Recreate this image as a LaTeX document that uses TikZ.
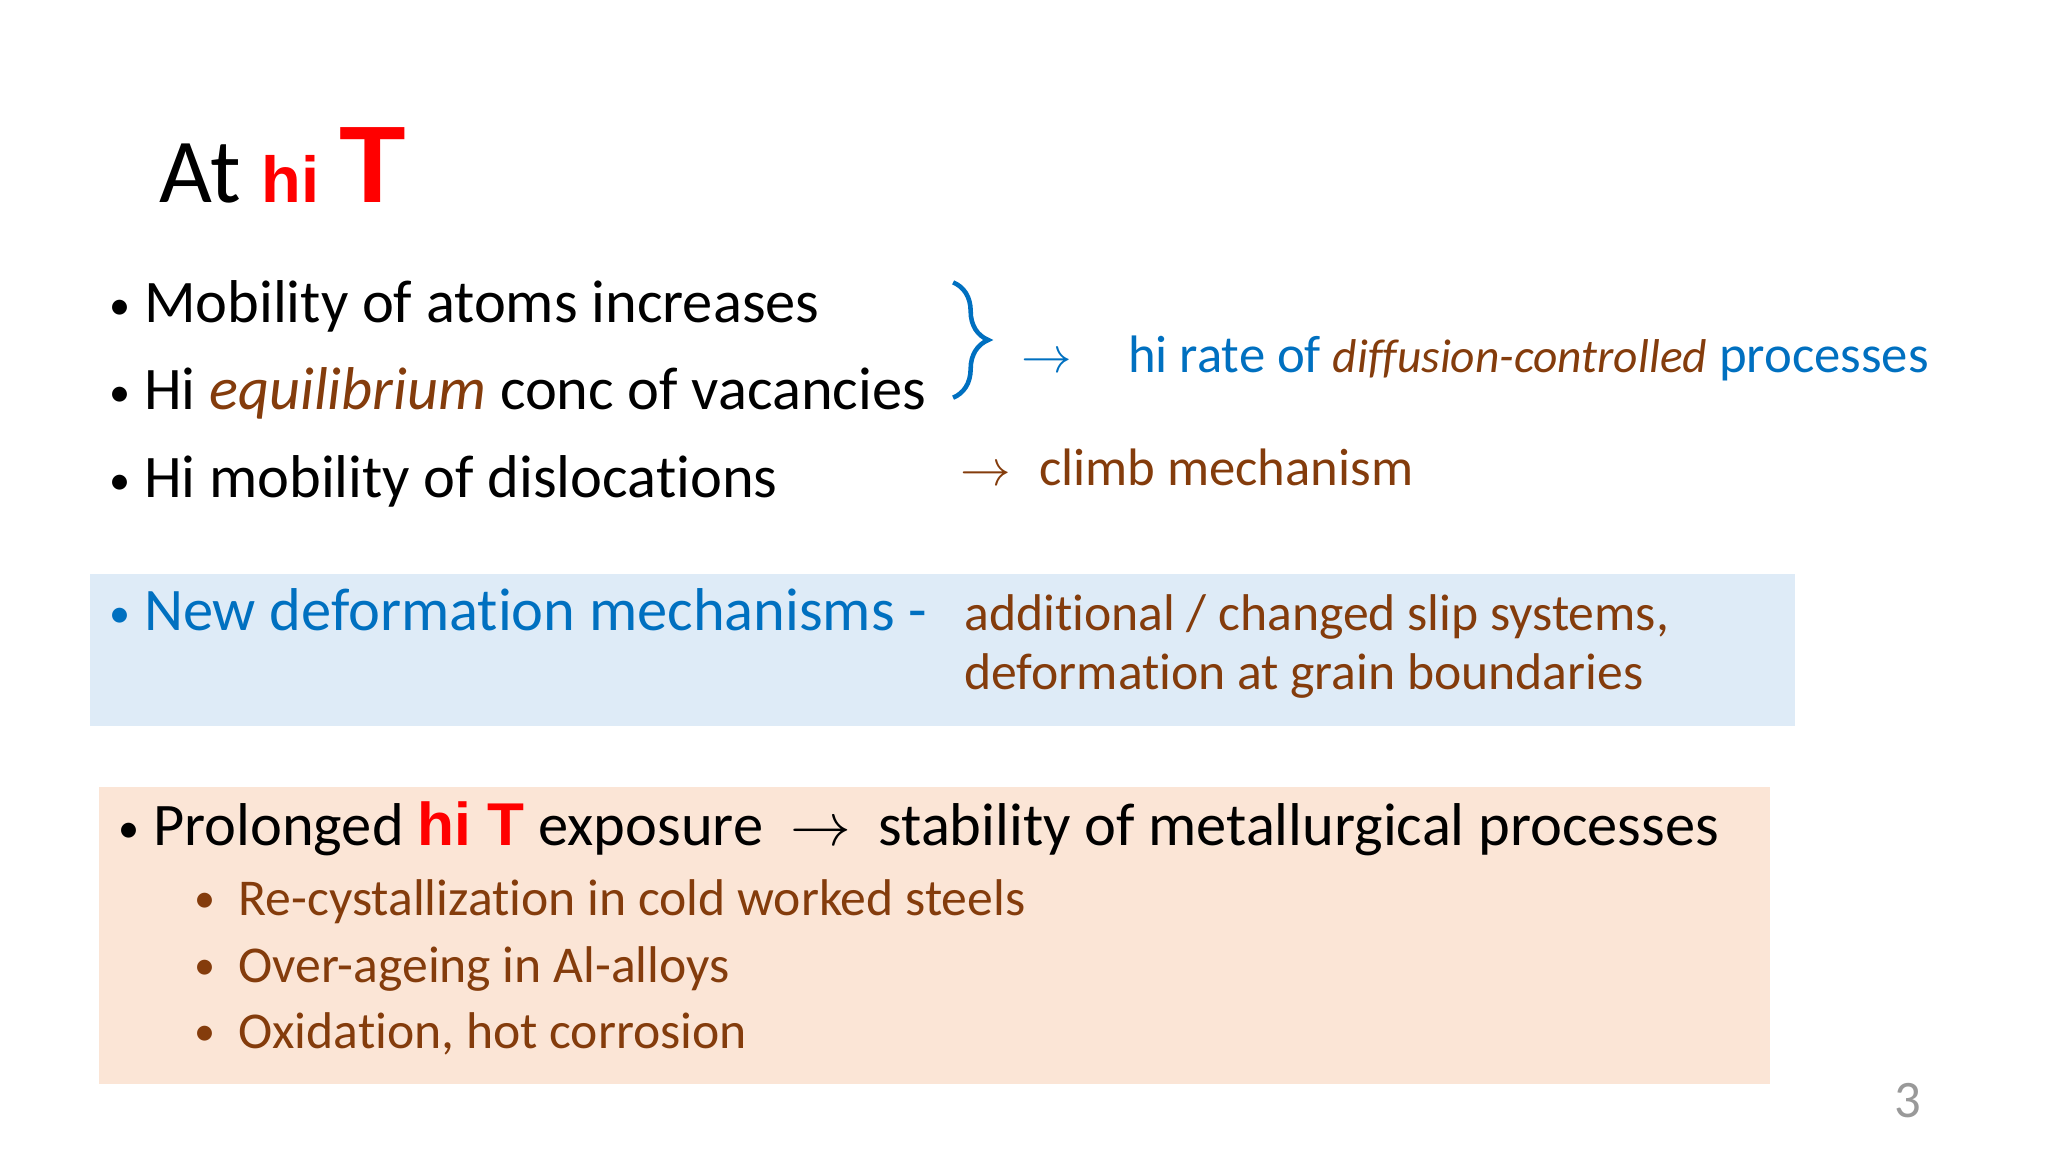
\documentclass[tikz,border=0pt]{standalone}
\usepackage{fontspec}
\setmainfont{Carlito}[Ligatures=NoCommon]
\newfontfamily\arialb{Liberation Sans}
\usetikzlibrary{decorations.pathreplacing}
\definecolor{tblue}{RGB}{0,112,192}
\definecolor{tbrown}{RGB}{132,60,12}
\definecolor{tred}{RGB}{255,0,0}
\definecolor{boxblue}{RGB}{222,235,247}
\definecolor{boxpeach}{RGB}{251,229,214}
\tikzset{t/.style={anchor=base west,inner sep=0pt,font=\fontsize{17.2}{20}\selectfont},
 s/.style={anchor=base west,inner sep=0pt,font=\fontsize{14.7}{17}\selectfont,text=tbrown}}
\newcommand{\hiT}{{\arialb\bfseries\color{tred}hi T}}
\newcommand{\bul}{{\fontsize{12}{12}\selectfont\raisebox{0.15ex}{•}}}
\begin{document}
\begin{tikzpicture}[x=0.013256cm,y=-0.013256cm]
\useasboundingbox (0,0) rectangle (1545,869);
\fill[white] (0,0) rectangle (1545,869);
\fill[boxblue] (68,433) rectangle (1354,548);
\fill[boxpeach] (75,594) rectangle (1335,818);
\node[t,font=\fontsize{26}{30}\selectfont] (title) at (120,153) {At {\arialb\bfseries\color{tred}\fontsize{18.5}{22}\selectfont hi} {\arialb\bfseries\color{tred}\fontsize{31}{36}\selectfont T}};
\node[t] (b1) at (82,243) {\bul\ Mobility of atoms increases};
\node[t] (b2) at (82,309) {\bul\ Hi {\itshape\color{tbrown}equilibrium} conc of vacancies};
\node[t] (b3) at (82,375) {\bul\ Hi mobility of dislocations};
\draw[tblue,line width=1.3pt,decorate,decoration={brace,amplitude=10pt}] (719,213) -- (719,300);
\node[t,text=tblue,font=\fontsize{15}{18}\selectfont] (r1) at (770,281) {$\rightarrow$\hspace{16pt}hi rate of {\itshape\color{tbrown}\fontsize{13.5}{16}\selectfont diffusion-controlled} processes};
\node[t,text=tbrown,font=\fontsize{15}{18}\selectfont] (r2) at (724,366) {$\rightarrow$\hspace{8pt}climb mechanism};
\node[t,text=tblue] (nd) at (82,476) {\bul\ New deformation mechanisms -};
\node[s] (ad1) at (727,476) {additional / changed slip systems,};
\node[s] (ad2) at (727,520) {deformation at grain boundaries};
\node[t] (pr) at (89,638) {\bul\ Prolonged \hiT\ exposure \ $\rightarrow$\ \ stability of metallurgical processes};
\node[s] (c1) at (146,691) {\bul\ \ Re-cystallization in cold worked steels};
\node[s] (c2) at (146,741) {\bul\ \ Over-ageing in Al-alloys};
\node[s] (c3) at (146,791) {\bul\ \ Oxidation, hot corrosion};
\node[s,text=gray!80,font=\fontsize{15}{18}\selectfont] (pg) at (1429,843) {3};
\end{tikzpicture}
\end{document}
